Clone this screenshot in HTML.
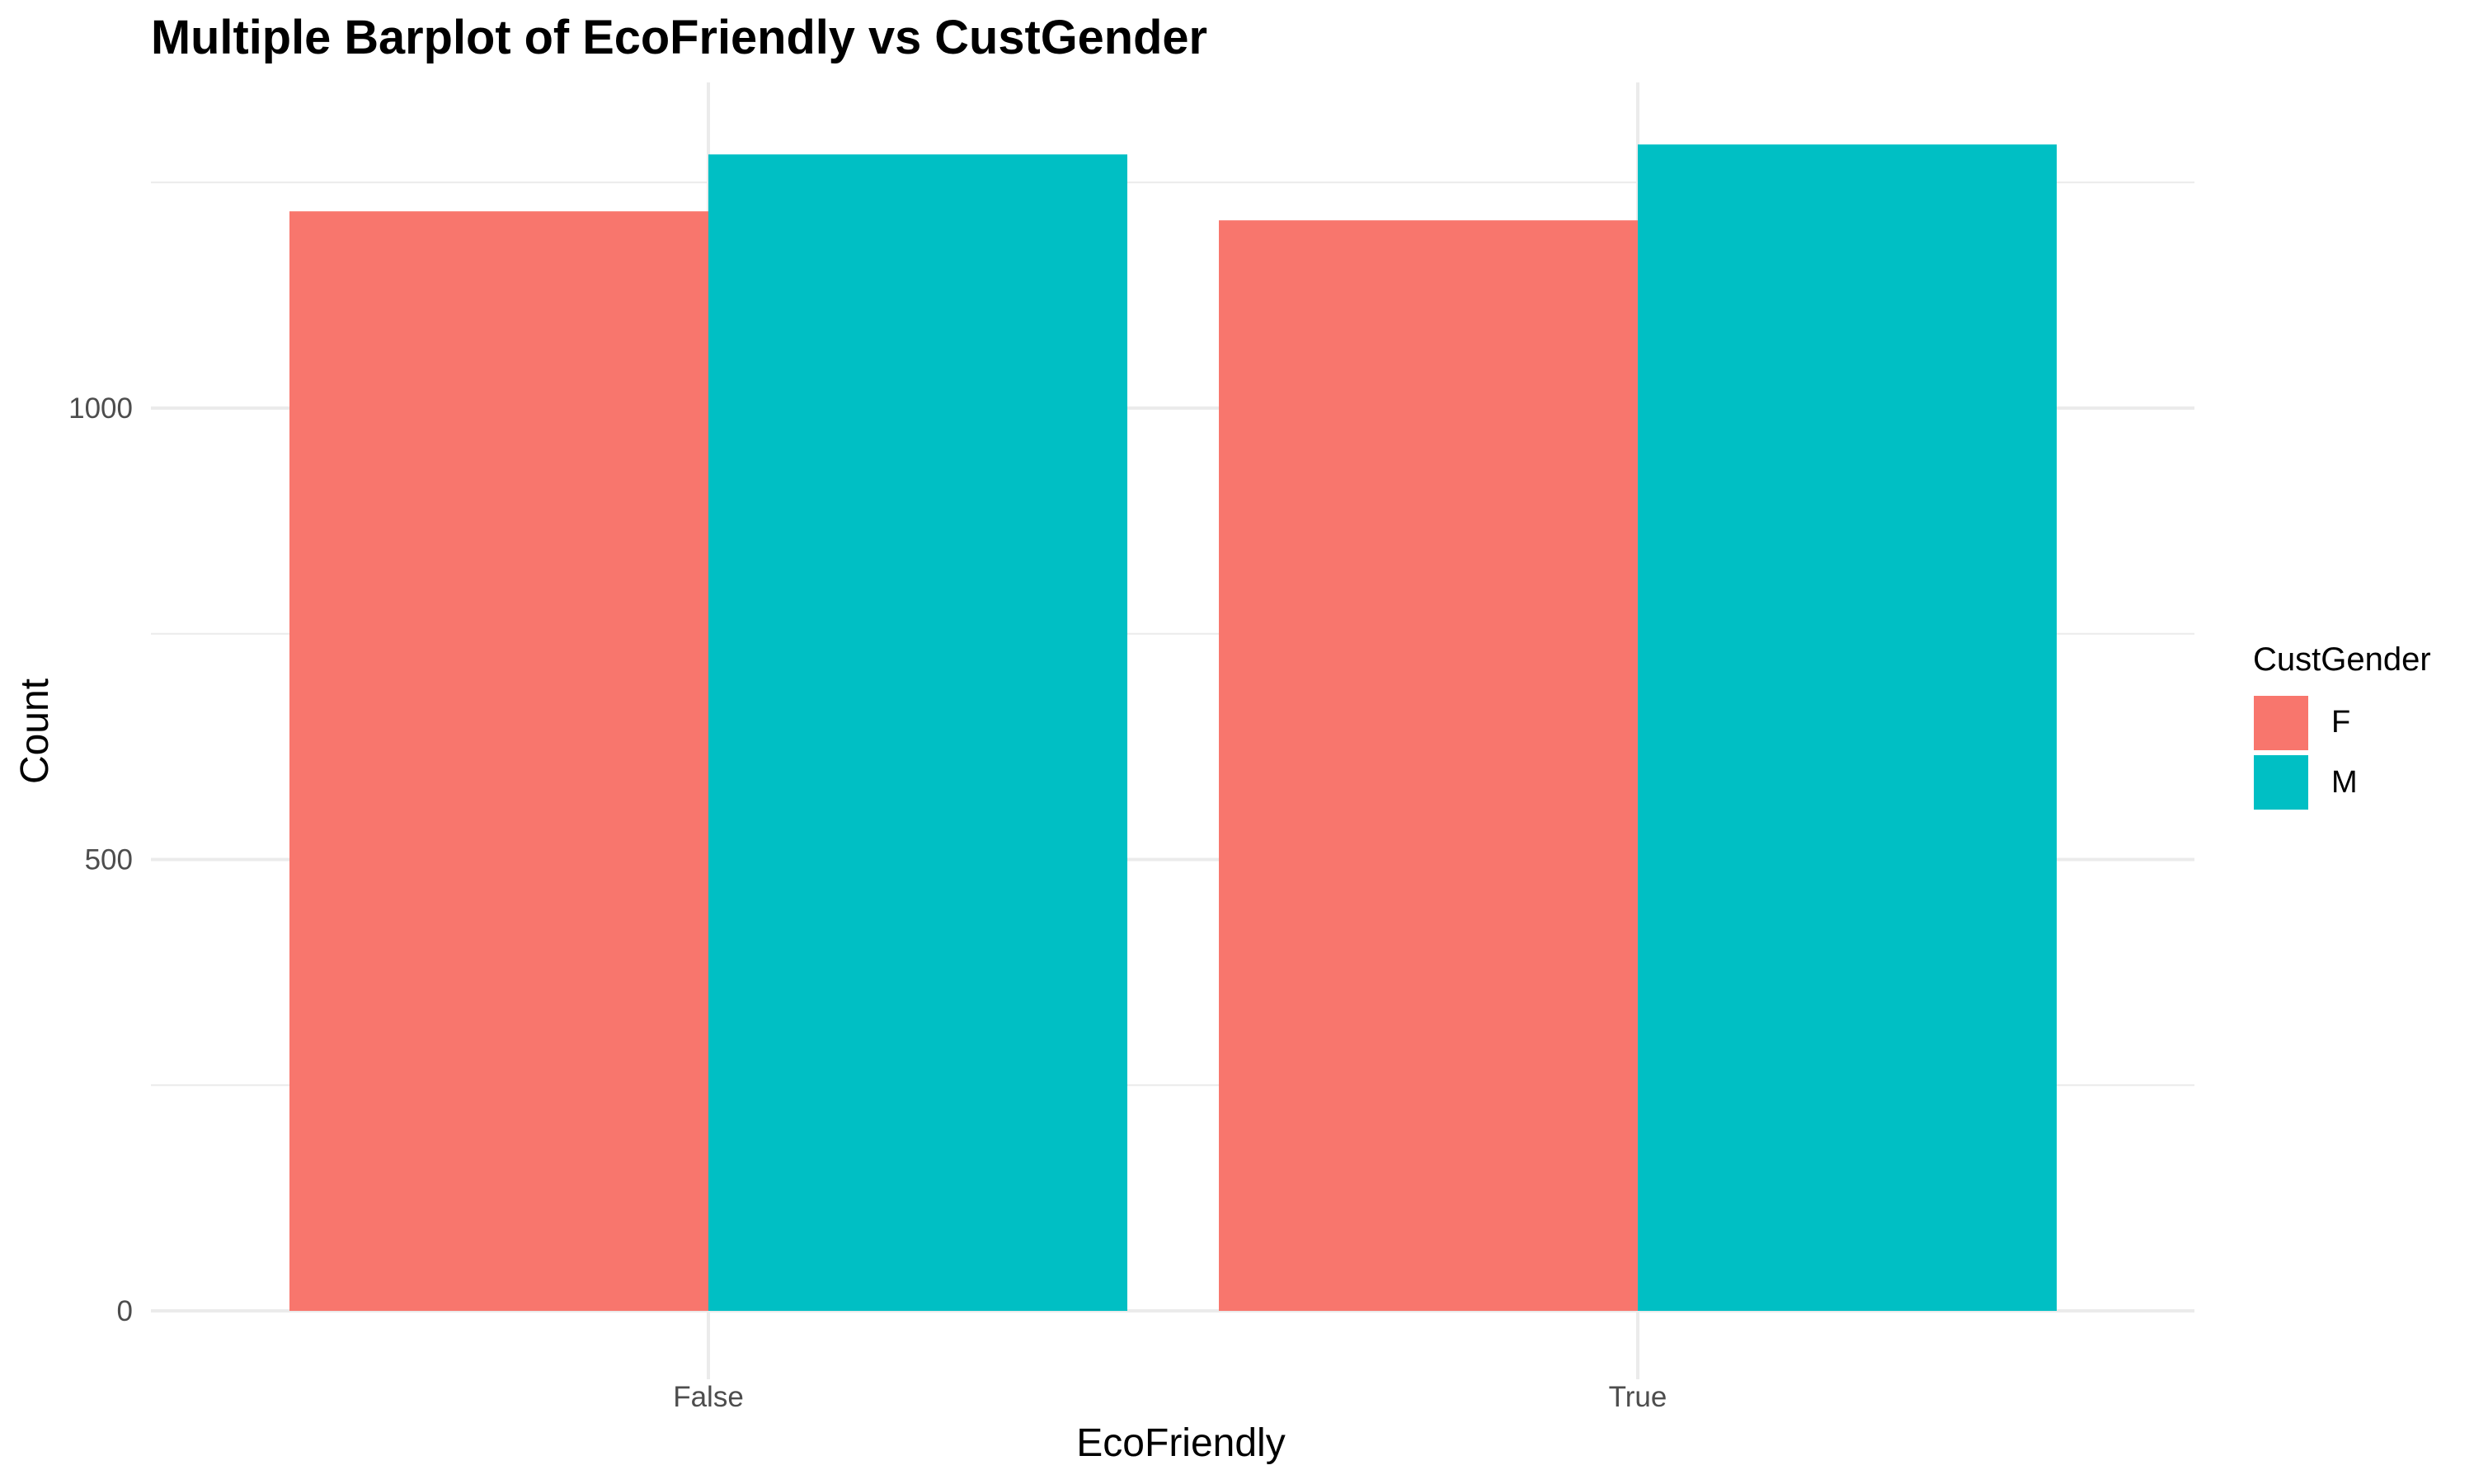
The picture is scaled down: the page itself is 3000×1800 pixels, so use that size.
<!DOCTYPE html>
<html><head><meta charset="utf-8"><style>html,body{margin:0;padding:0;background:#fff}svg{display:block}</style></head>
<body>
<svg id="chart" width="3000" height="1800" viewBox="0 0 3000 1800" xmlns="http://www.w3.org/2000/svg" font-family="Liberation Sans, Arial, sans-serif">
<rect width="3000" height="1800" fill="#fff"/>
<g id="grid"></g>
<g id="bars"></g>
<g id="ticks"></g>
<text x="183" y="65" font-size="58" font-weight="bold" fill="#000" textLength="1281" lengthAdjust="spacingAndGlyphs">Multiple Barplot of EcoFriendly vs CustGender</text>
<text x="1432" y="1766" font-size="48" text-anchor="middle" fill="#000">EcoFriendly</text>
<text transform="translate(58,887) rotate(-90)" font-size="48" text-anchor="middle" fill="#000">Count</text>
<g>
<text x="2732" y="813" font-size="40" fill="#000">CustGender</text>
<rect x="2733" y="844" width="66" height="66" fill="#F8766D"/>
<text x="2827" y="888" font-size="38" fill="#000">F</text>
<rect x="2733" y="916" width="66" height="66" fill="#00BFC4"/>
<text x="2827" y="961" font-size="38" fill="#000">M</text>
</g>
</svg>
<script>
const categories = ["False", "True"];
const seriesNames = ["F", "M"];
const valuesF = [1218, 1208];
const valuesM = [1281, 1292];
const yTicks = [0, 500, 1000];
const yMinorTicks = [250, 750, 1250];
const yTickLabels = ["0", "500", "1000"];

const NS = "http://www.w3.org/2000/svg";
const colors = {F: "#F8766D", M: "#00BFC4"};
const panel = {left: 183, right: 2661, top: 100, bottom: 1673};
const y0 = 1590, pxPerUnit = 1.095;
const yScale = v => y0 - v * pxPerUnit;
const catCenter0 = 859, catStep = 1127;
const xScale = i => catCenter0 + i * catStep;
const barW = 508;

function mk(tag, attrs, parent) {
  const el = document.createElementNS(NS, tag);
  for (const k in attrs) el.setAttribute(k, attrs[k]);
  parent.appendChild(el);
  return el;
}
const grid = document.getElementById('grid');
const bars = document.getElementById('bars');
const ticks = document.getElementById('ticks');

yMinorTicks.forEach(v => {
  const l = mk('line', {x1: panel.left, x2: panel.right, y1: yScale(v), y2: yScale(v), stroke: '#ebebeb', 'stroke-width': 2}, grid);
  
  
});
yTicks.forEach((v, i) => {
  const l = mk('line', {x1: panel.left, x2: panel.right, y1: yScale(v), y2: yScale(v), stroke: '#ebebeb', 'stroke-width': 4}, grid);
  
  
  const t = mk('text', {x: 161, y: yScale(v) + 12, 'font-size': 35, 'text-anchor': 'end', fill: '#4d4d4d'}, ticks);
  t.textContent = yTickLabels[i];
  
  
});
categories.forEach((c, i) => {
  const l = mk('line', {x1: xScale(i), x2: xScale(i), y1: panel.top, y2: panel.bottom, stroke: '#ebebeb', 'stroke-width': 4}, grid);
  
  
  const t = mk('text', {x: xScale(i), y: 1706, 'font-size': 35, 'text-anchor': 'middle', fill: '#4d4d4d'}, ticks);
  t.textContent = c;
  
  
  const rf = mk('rect', {x: xScale(i) - barW, y: yScale(valuesF[i]), width: barW, height: yScale(0) - yScale(valuesF[i]), fill: colors.F}, bars);
  
  
  const rm = mk('rect', {x: xScale(i), y: yScale(valuesM[i]), width: barW, height: yScale(0) - yScale(valuesM[i]), fill: colors.M}, bars);
  
  
});
</script>
</body></html>
